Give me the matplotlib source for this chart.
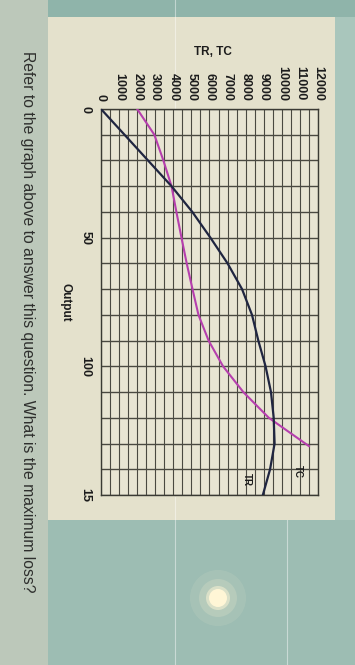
import numpy as np
import matplotlib
matplotlib.use('Agg')
import matplotlib.pyplot as plt
from matplotlib.patches import Rectangle, Circle

plt.rcParams['font.family'] = ['Liberation Sans', 'DejaVu Sans']

# 数据 (照片里图是顺时针转了90度: 横向=TR/TC, 纵向=Output)
Q_TR = [0, 10, 20, 30, 40, 50, 60, 70, 80, 90, 100, 110, 120, 130, 140, 150]
TR = [0, 1300, 2600, 3900, 5050, 6050, 7000, 7800, 8350, 8700, 9100, 9400, 9550, 9600, 9350, 8950]
Q_TC = [0, 10, 20, 30, 40, 50, 60, 70, 80, 90, 100, 110, 120, 131]
TC = [2000, 2950, 3450, 3900, 4170, 4450, 4740, 5060, 5390, 5950, 6750, 7870, 9280, 11500]
VAL_TICKS = list(range(0, 12001, 1000))
Q_TICKS = [0, 50, 100, 150]
Q_TICK_LABELS = ['0', '50', '100', '15']  # 原图 150 被截成 15
QUESTION = 'Refer to the graph above to answer this question. What is the maximum loss?'

W, H = 355, 665
NAVY, MAGENTA = '#1f2540', '#b63fae'
GRID = '#4a4941'
INK = '#1c1c1c'

fig = plt.figure(figsize=(W / 100, H / 100), dpi=100)
fig.patch.set_facecolor('#a3c2b8')

# 背景层: 整张图一个像素坐标的底轴 (左上原点)
bg = fig.add_axes([0, 0, 1, 1], zorder=0)
bg.set_xlim(0, W); bg.set_ylim(H, 0); bg.axis('off')

def px_rect(x0, y0, x1, y1, color, alpha=1.0):
    bg.add_patch(Rectangle((x0, y0), x1 - x0, y1 - y0, color=color, alpha=alpha, lw=0))

px_rect(0, 0, 48, H, '#bcc8ba')
px_rect(48, 0, W, 17, '#8fb4aa')
px_rect(48, 520, W, H, '#9dbdb3')
px_rect(335, 17, W, 520, '#a9c6bc')
px_rect(48, 17, 335, 520, '#e4e1cc')

# 屏幕上的细白线
for x, y0, y1 in [(175, 0, 108), (175, 497, H), (287, 520, H)]:
    bg.plot([x, x], [y0, y1], color='white', lw=0.8, alpha=0.45)

# 反光亮点
for r, a in [(28, 0.10), (19, 0.18), (12, 0.5), (9, 1.0)]:
    bg.add_patch(Circle((218, 598), r, color='#fff6d6', alpha=a, lw=0))

bg.text(213, 52, 'TR, TC', fontsize=8.5, fontweight='bold', color=INK, ha='center', va='center')
bg.text(65, 302, 'Output', rotation=-90, fontsize=8.5, fontweight='bold', color=INK, ha='center', va='center')
bg.text(27, 322, QUESTION, rotation=-90, fontsize=11.3, color='#2e2f2d', ha='center', va='center')

ax = fig.add_axes([101 / W, 1 - 495 / H, (318 - 101) / W, (495 - 109) / H], zorder=2)
ax.set_facecolor('#e8e5d3')
ax.plot(TC, Q_TC, color=MAGENTA, lw=1.5, zorder=4)
ax.plot(TR, Q_TR, color=NAVY, lw=1.6, zorder=5)
ax.set_xlim(0, 12000)
ax.set_ylim(150, 0)

ax.xaxis.tick_top()
ax.set_xticks(VAL_TICKS)
ax.set_xticklabels([str(v) for v in VAL_TICKS], rotation=-90, fontsize=9, fontweight='bold', color=INK)
ax.set_xticks(np.arange(0, 12001, 500), minor=True)
ax.set_yticks(Q_TICKS)
ax.set_yticklabels(Q_TICK_LABELS, rotation=-90, va='center', fontsize=9, fontweight='bold', color=INK)
ax.set_yticks(np.arange(0, 151, 10), minor=True)
ax.tick_params(which='both', length=0)
ax.tick_params(axis='x', pad=6)
ax.tick_params(axis='y', pad=7)
ax.grid(which='both', axis='x', color=GRID, lw=0.8)
ax.grid(which='both', axis='y', color=GRID, lw=1.0)
ax.set_axisbelow(True)
for s in ax.spines.values():
    s.set_color('#3a3a34'); s.set_linewidth(1.0)

ax.text(10900, 141, 'TC', rotation=-90, fontsize=7, fontweight='bold', color=INK, ha='center', va='center', zorder=6)
ax.text(8050, 144, 'TR', rotation=-90, fontsize=7, fontweight='bold', color=INK, ha='center', va='center', zorder=6)

fig.savefig('out.png', dpi=100, facecolor=fig.get_facecolor())
